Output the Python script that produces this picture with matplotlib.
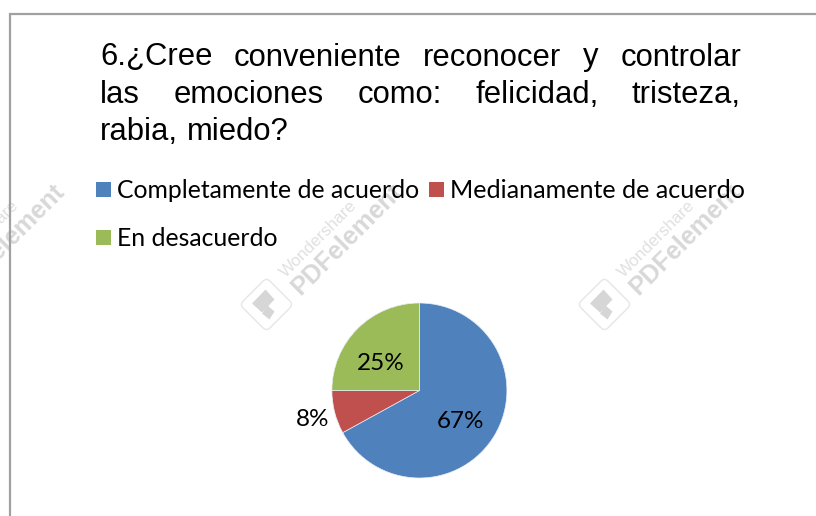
import matplotlib
matplotlib.use('Agg')
import matplotlib.pyplot as plt
from matplotlib.patches import Rectangle, FancyBboxPatch, Polygon
from matplotlib.transforms import Affine2D

W, H = 816, 516

title_lines = ["6.¿Cree conveniente reconocer y controlar",
               "las emociones como: felicidad, tristeza,",
               "rabia, miedo?"]
categories = ["Completamente de acuerdo", "Medianamente de acuerdo", "En desacuerdo"]
values = [67, 8, 25]
colors = ['#4F81BD', '#C0504D', '#9BBB59']
value_labels = ["67%", "8%", "25%"]

fig = plt.figure(figsize=(W / 100, H / 100), dpi=100)
bg = fig.add_axes([0, 0, 1, 1])
bg.set_xlim(0, W)
bg.set_ylim(H, 0)
bg.axis('off')


def watermark(x, y):
    # logo plus the two rotated words, anchored on the logo centre
    rot = Affine2D().rotate_deg_around(x, y, 45) + bg.transData
    bg.add_patch(FancyBboxPatch((x - 19, y - 19), 38, 38, boxstyle='round,pad=0,rounding_size=5',
                                fc='white', ec='#E6E6E6', lw=1, transform=rot, zorder=1))
    bg.add_patch(Polygon([(x - 14.5, y - 1), (x - 1, y - 15), (x + 8, y - 5), (x - 4.5, y + 8)],
                         fc='#D6D6D6', ec='none', zorder=1))
    bg.add_patch(Polygon([(x + 1, y + 1), (x + 8, y + 7), (x + 3, y + 15), (x - 4.5, y + 9)],
                         fc='#D6D6D6', ec='none', zorder=1))
    bg.text(x + 19, y - 27, "Wondershare", fontsize=12.2, color='#E0E0E0', rotation=45, family='Liberation Sans',
            ha='left', va='baseline', rotation_mode='anchor', zorder=1)
    bg.text(x + 34, y - 9, "PDFelement", fontsize=18.2, color='#D8D8D8', rotation=45, family='Liberation Sans',
            weight='bold', ha='left', va='baseline', rotation_mode='anchor', zorder=1)


watermark(266.5, 304.5)
watermark(604.5, 304.5)
watermark(-71.5, 304.5)

# outer frame, right and bottom edges are cut off
bg.plot([9.5, 9.5, W], [H, 14, 14], color='#A0A0A0', lw=1.6, zorder=2, solid_joinstyle='miter')

# justified title, word gaps worked out from the measured widths
renderer = fig.canvas.get_renderer()
left, right = 100, 741
for i, line in enumerate(title_lines):
    words = line.split(' ')
    y = 65.5 + i * 37.5
    texts = [bg.text(left, y, w, fontsize=22.3, family='Liberation Sans', color='black',
                     va='baseline', ha='left', zorder=3) for w in words]
    if i == len(title_lines) - 1:
        gap = 8.6
    else:
        widths = [t.get_window_extent(renderer).width for t in texts]
        gap = (right - left - sum(widths)) / (len(words) - 1)
    x = left
    for t in texts:
        t.set_x(x)
        x += t.get_window_extent(renderer).width + gap

# legend
legend_pos = [(96, 198), (429, 198), (96, 246)]
legend_size = [17.85, 18.05, 17.85]
for name, col, (x, y), size in zip(categories, colors, legend_pos, legend_size):
    bg.add_patch(Rectangle((x, y - 16), 15, 15, fc=col, ec='none', zorder=3))
    bg.text(x + 21, y, name, fontsize=size, family='Lato', color='black', va='baseline', ha='left', zorder=3)

# pie, centre (419.4, 390.5) radius 87.5 px
cx, cy, r = 419.4, 390.5, 87.5
ax = fig.add_axes([(cx - r) / W, 1 - (cy + r) / H, 2 * r / W, 2 * r / H])
ax.patch.set_alpha(0)
ax.pie(values, colors=colors, startangle=90, counterclock=False, radius=1,
       wedgeprops={'linewidth': 0.5, 'edgecolor': '#E8EEF4'})
ax.set_xlim(-1, 1)
ax.set_ylim(-1, 1)
label_pos = [(0.475, -0.36), (-1.225, -0.33), (-0.445, 0.305)]
for lab, (x, y) in zip(value_labels, label_pos):
    ax.text(x, y, lab, fontsize=17.5, family='Lato', color='black', ha='center', va='center', clip_on=False)

fig.savefig('out.png', dpi=100)
